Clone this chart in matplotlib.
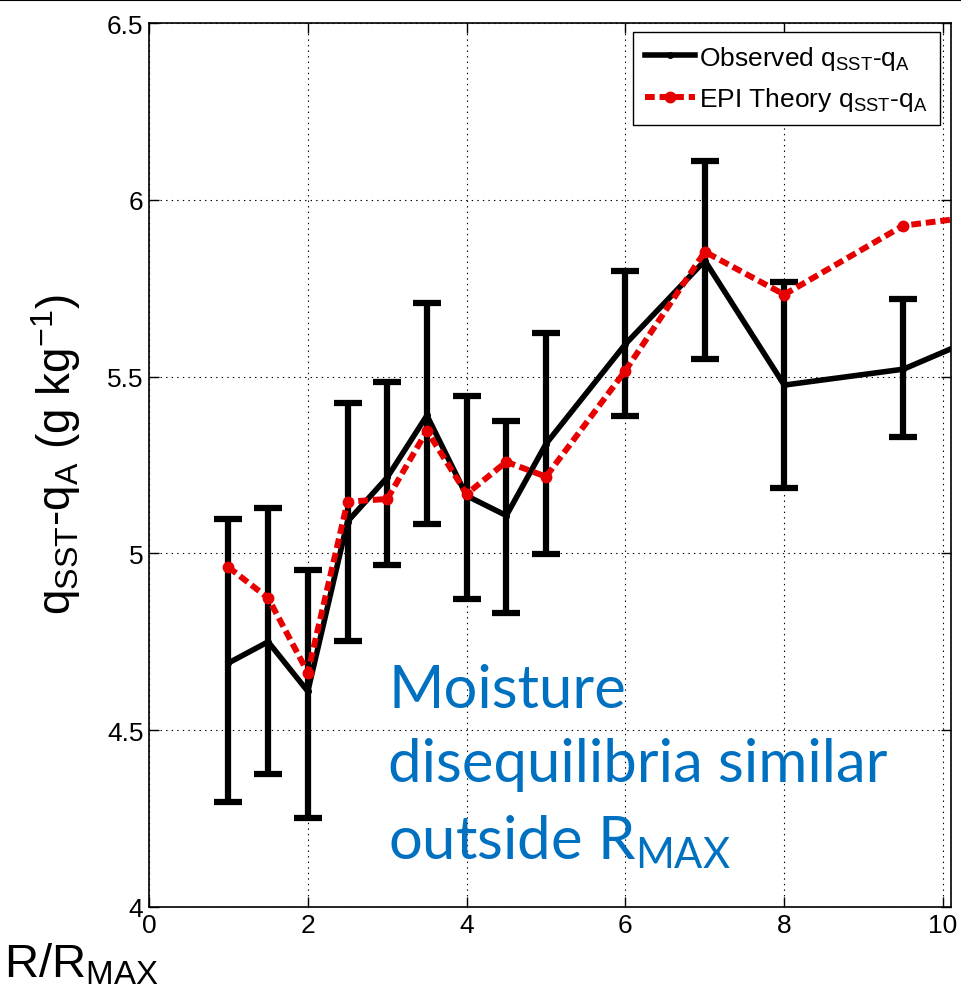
import numpy as np
import matplotlib
matplotlib.use("Agg")
import matplotlib.pyplot as plt
from matplotlib.lines import Line2D

plt.rcParams['font.family'] = ['Liberation Sans', 'DejaVu Sans']
plt.rcParams['lines.scale_dashes'] = False

# Radio normalizado R/RMAX (el ultimo punto queda fuera del eje, recortado)
radio = [1, 1.5, 2, 2.5, 3, 3.5, 4, 4.5, 5, 6, 7, 8, 9.5, 11]
# Diferencia observada qSST-qA (g/kg)
observado = [4.69, 4.75, 4.61, 5.09, 5.215, 5.39, 5.163, 5.107, 5.31,
             5.592, 5.828, 5.476, 5.521, 5.665]
# Teoria EPI
teoria = [4.961, 4.874, 4.663, 5.146, 5.154, 5.347, 5.168, 5.259, 5.217,
          5.517, 5.853, 5.732, 5.927, 5.969]
# Extremos de las barras de error (solo puntos visibles)
barra_sup = [5.096, 5.128, 4.954, 5.425, 5.486, 5.708, 5.446, 5.374, 5.622,
             5.799, 6.111, 5.767, 5.719]
barra_inf = [4.296, 4.376, 4.251, 4.753, 4.967, 5.083, 4.871, 4.831, 4.998,
             5.389, 5.550, 5.184, 5.328]

xticks = [0, 2, 4, 6, 8, 10]
yticks = [4, 4.5, 5, 5.5, 6, 6.5]
ytick_labels = ['4', '4.5', '5', '5.5', '6', '6.5']

fig = plt.figure(figsize=(9.61, 10.04), dpi=100)
ax = fig.add_axes([149 / 961, 96 / 1004, 802 / 961, 884 / 1004])

n = len(barra_sup)
obs_err = np.array(observado[:n])
yerr = [obs_err - np.array(barra_inf), np.array(barra_sup) - obs_err]
ax.errorbar(radio[:n], observado[:n], yerr=yerr, fmt='none', ecolor='black',
            elinewidth=4.5, capsize=10, capthick=4.5, zorder=2)
ax.plot(radio, observado, color='black', lw=4, marker='o', markersize=4,
        label=r'Observed q$\mathregular{_{SST}}$-q$\mathregular{_A}$', zorder=3)
ax.plot(radio, teoria, color='#e60000', lw=4.3, dashes=(7, 3.5), marker='o',
        markersize=7.5, label=r'EPI Theory q$\mathregular{_{SST}}$-q$\mathregular{_A}$',
        zorder=4)

ax.set_xlim(0, 10.1)
ax.set_ylim(4, 6.5)
ax.set_xticks(xticks)
ax.set_yticks(yticks)
ax.set_yticklabels(ytick_labels)
ax.tick_params(direction='in', length=7, width=1, labelsize=19,
               top=True, right=True, pad=4)
ax.grid(True, color='black', linestyle=(0, (1, 3)), linewidth=0.8)
for s in ax.spines.values():
    s.set_linewidth(1.2)

leg = ax.legend(loc='upper right', fontsize=19, handlelength=1.9,
                handletextpad=0.15, borderpad=0.45, labelspacing=0.5,
                borderaxespad=0, fancybox=False, framealpha=1,
                edgecolor='black', bbox_to_anchor=(0.986, 0.99))
leg.get_frame().set_linewidth(1.0)

# Etiquetas de ejes
fig.text(56 / 961, 1 - 455 / 1004,
         r'q$\mathregular{_{SST}}$-q$\mathregular{_A}$ (g kg$\mathregular{^{-1}}$)',
         rotation=90, ha='center', va='center', fontsize=33)
fig.text(4 / 961, 1 - 978 / 1004, r'R/R$\mathregular{_{MAX}}$',
         ha='left', va='baseline', fontsize=34)

# Texto azul
azul = '#0070c0'
for linea, y in [('Moisture', 708), ('disequilibria similar', 782),
                 (r'outside R$\mathregular{_{MAX}}$', 860)]:
    fig.text(388 / 961, 1 - y / 1004, linea, family='Lato', color=azul,
             fontsize=43, ha='left', va='baseline')

fig.add_artist(Line2D([0, 1], [0.9995, 0.9995], color='black', lw=1.5,
                      transform=fig.transFigure))

fig.savefig('out.png', dpi=100)
